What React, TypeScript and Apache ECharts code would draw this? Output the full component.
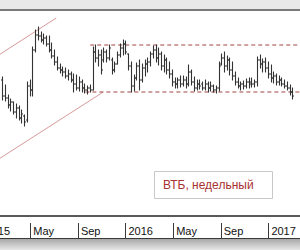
import React, { useEffect, useRef } from 'react';
import * as echarts from 'echarts';

// Weekly bars, first bar dated 2015-02-20, prices in kopecks
const firstWeekUTC = Date.UTC(2015, 1, 20);
const originUTC = Date.UTC(2015, 0, 1);

const opens = [
  7.40, 7.08, 7.04, 6.90, 6.96, 6.76, 6.84, 6.64, 6.68, 6.60,
  7.28, 7.20, 8.00, 8.30, 8.28, 8.20, 8.24, 8.12, 8.00, 7.88,
  7.76, 7.64, 7.60, 7.56, 7.48, 7.52, 7.40, 7.32, 7.24, 7.36,
  7.24, 7.20, 7.24, 7.20, 7.96, 7.84, 7.90, 7.80, 7.96, 7.84,
  7.80, 7.60, 7.72, 7.90, 8.04, 8.12, 7.92, 7.68, 7.28, 7.44,
  7.68, 7.40, 7.64, 7.72, 7.76, 7.92, 8.00, 7.84, 7.92, 7.68,
  7.80, 7.60, 7.52, 7.36, 7.32, 7.40, 7.32, 7.40, 7.32, 7.56,
  7.36, 7.24, 7.32, 7.32, 7.24, 7.32, 7.24, 7.28, 7.20, 7.24,
  7.72, 7.84, 7.68, 7.80, 7.60, 7.48, 7.36, 7.28, 7.32, 7.28,
  7.36, 7.36, 7.32, 7.36, 7.80, 7.72, 7.76, 7.64, 7.52, 7.44,
  7.48, 7.36, 7.40, 7.32, 7.28, 7.24, 7.16,
];
const highs = [
  7.46, 7.30, 7.10, 7.02, 6.96, 6.92, 6.88, 6.80, 6.70, 7.36,
  7.40, 8.06, 8.40, 8.46, 8.36, 8.32, 8.28, 8.28, 8.14, 8.00,
  7.86, 7.72, 7.66, 7.64, 7.60, 7.56, 7.52, 7.50, 7.46, 7.40,
  7.32, 7.28, 7.30, 8.06, 8.10, 8.00, 8.00, 8.04, 8.00, 8.10,
  7.84, 7.76, 7.96, 8.12, 8.20, 8.18, 7.92, 7.76, 7.50, 7.74,
  7.80, 7.72, 7.80, 7.84, 7.96, 8.08, 8.10, 8.04, 7.96, 7.90,
  7.84, 7.76, 7.60, 7.44, 7.44, 7.48, 7.48, 7.46, 7.70, 7.60,
  7.46, 7.40, 7.40, 7.36, 7.40, 7.36, 7.36, 7.30, 7.28, 7.76,
  7.92, 7.96, 7.88, 7.84, 7.76, 7.56, 7.44, 7.36, 7.38, 7.42,
  7.44, 7.44, 7.40, 7.86, 7.90, 7.82, 7.84, 7.76, 7.70, 7.56,
  7.52, 7.48, 7.44, 7.40, 7.36, 7.30, 7.24,
];
const lows = [
  7.00, 6.98, 6.84, 6.78, 6.72, 6.64, 6.60, 6.54, 6.48, 6.56,
  7.08, 7.08, 7.96, 8.20, 8.16, 8.12, 8.08, 7.96, 7.84, 7.70,
  7.60, 7.54, 7.48, 7.44, 7.40, 7.36, 7.16, 7.20, 7.18, 7.16,
  7.14, 7.12, 7.16, 7.20, 7.76, 7.68, 7.52, 7.76, 7.76, 7.80,
  7.52, 7.56, 7.72, 7.86, 7.90, 7.92, 7.60, 7.16, 7.18, 7.40,
  7.20, 7.36, 7.48, 7.56, 7.68, 7.84, 7.76, 7.70, 7.60, 7.56,
  7.52, 7.44, 7.28, 7.24, 7.24, 7.26, 7.28, 7.24, 7.28, 7.30,
  7.18, 7.20, 7.22, 7.20, 7.20, 7.16, 7.18, 7.16, 7.14, 7.18,
  7.70, 7.56, 7.60, 7.50, 7.40, 7.30, 7.24, 7.20, 7.22, 7.24,
  7.24, 7.26, 7.26, 7.28, 7.64, 7.56, 7.56, 7.44, 7.36, 7.34,
  7.30, 7.30, 7.28, 7.24, 7.20, 7.10, 7.02,
];
const closes = [
  7.08, 7.04, 6.90, 6.96, 6.76, 6.84, 6.64, 6.72, 6.56, 7.28,
  7.20, 8.00, 8.30, 8.28, 8.20, 8.24, 8.12, 8.00, 7.88, 7.76,
  7.64, 7.60, 7.56, 7.48, 7.52, 7.40, 7.32, 7.24, 7.36, 7.24,
  7.20, 7.24, 7.20, 7.96, 7.84, 7.90, 7.60, 7.96, 7.84, 8.04,
  7.60, 7.72, 7.90, 8.04, 8.12, 7.96, 7.68, 7.28, 7.44, 7.68,
  7.40, 7.64, 7.72, 7.76, 7.92, 8.00, 7.84, 7.92, 7.68, 7.80,
  7.60, 7.52, 7.36, 7.32, 7.40, 7.32, 7.40, 7.32, 7.56, 7.36,
  7.24, 7.32, 7.28, 7.24, 7.32, 7.24, 7.28, 7.20, 7.24, 7.68,
  7.84, 7.68, 7.80, 7.60, 7.48, 7.36, 7.28, 7.32, 7.28, 7.36,
  7.32, 7.32, 7.36, 7.80, 7.72, 7.76, 7.64, 7.52, 7.44, 7.48,
  7.36, 7.40, 7.32, 7.28, 7.24, 7.16, 7.08,
];

// Horizontal channel (price) and where it starts (months since Jan 2015)
const resistanceLevel = 8.10;
const supportLevel = 7.16;
const resistanceFrom = 9.04;
const supportFrom = 8.63;
const channelTo = 28;

// Rising channel endpoints: [months since Jan 2015, price]
const upperTrend = [[0.64, 7.79], [6.18, 8.64]];
const lowerTrend = [[0.64, 5.71], [10.13, 7.16]];

// Axis tick labels (every 4 months)
const monthLabels = ['', 'May', 'Sep'];
const firstYear = 2015;

const title = 'ВТБ, недельный';

const DAY = 86400000;
const MONTH_DAYS = 30.4375;

// The chart canvas starts left of the window so that the axis can begin at a whole tick
const SHIFT = 65;
const CW = 381;

export default function App() {
  const ref = useRef<HTMLDivElement>(null);
  useEffect(() => {
    if (!ref.current) return;
    const chart = echarts.init(ref.current, undefined, { renderer: 'svg' });

    const bars = opens.map((o, i) => {
      const t = firstWeekUTC + i * 7 * DAY;
      const m = (t - originUTC) / DAY / MONTH_DAYS;
      return [m, o, highs[i], lows[i], closes[i]];
    });

    const font = '"Liberation Sans", Arial, sans-serif';

    chart.setOption({
      animation: false,
      backgroundColor: '#ffffff',
      grid: { left: 0, right: 0, top: 11, height: 205, containLabel: false, outerBoundsMode: 'none' },
      xAxis: [
        {
          type: 'value', min: -4, max: 28, interval: 4,
          axisLine: { show: true, lineStyle: { color: '#5a5a5a', width: 2 } },
          axisTick: { show: false }, axisLabel: { show: false }, splitLine: { show: false },
        },
        {
          type: 'value', min: -4, max: 28, interval: 4, position: 'bottom', offset: 7,
          axisLine: { show: false },
          axisTick: { show: true, length: 15, lineStyle: { color: '#3a3a3a', width: 1 } },
          splitLine: { show: false },
          axisLabel: {
            show: true, margin: 2, align: 'left', padding: [0, 0, 0, 3],
            showMinLabel: false, showMaxLabel: false,
            fontSize: 11, color: '#111', fontFamily: font,
            formatter: (v: number) => {
              const k = (((v / 4) % 3) + 3) % 3;
              if (k === 0) return String(firstYear + Math.floor(v / 12));
              return monthLabels[k];
            },
          },
        },
      ],
      yAxis: { type: 'value', min: 4.68, max: 8.78, show: false, splitLine: { show: false } },
      graphic: [
        { type: 'rect', shape: { x: 0, y: 0, width: CW, height: 9 }, style: { fill: '#e8e8e8' }, silent: true },
        { type: 'rect', shape: { x: 0, y: 9, width: CW, height: 2 }, style: { fill: '#787878' }, silent: true },
        { type: 'rect', shape: { x: 0, y: 238, width: CW, height: 1 }, style: { fill: '#3a3a3a' }, silent: true },
        {
          type: 'rect', shape: { x: 0, y: 239, width: CW, height: 11 },
          style: {
            fill: new echarts.graphic.LinearGradient(0, 0, 0, 1, [
              { offset: 0, color: '#a8a8a8' }, { offset: 1, color: '#e6e6e6' },
            ]),
          },
          silent: true,
        },
        {
          type: 'rect', shape: { x: SHIFT + 154.5, y: 171.5, width: 118, height: 27 },
          style: { fill: '#ffffff', stroke: '#c8c8c8', lineWidth: 1 }, z: 10,
        },
        {
          type: 'text', x: SHIFT + 163, y: 185, z: 11,
          style: { text: title, fill: '#a83232', font: `12px ${font}`, verticalAlign: 'middle' },
        },
      ],
      series: [
        {
          type: 'line', data: upperTrend, symbol: 'none', silent: true,
          lineStyle: { color: '#d89a9a', width: 1 }, z: 1,
        },
        {
          type: 'line', data: lowerTrend, symbol: 'none', silent: true,
          lineStyle: { color: '#d89a9a', width: 1 }, z: 1,
        },
        {
          type: 'line', data: [[resistanceFrom, resistanceLevel], [channelTo, resistanceLevel]],
          symbol: 'none', silent: true,
          lineStyle: { color: '#a04444', width: 1, type: [4, 3] }, z: 1,
        },
        {
          type: 'line', data: [[supportFrom, supportLevel], [channelTo, supportLevel]],
          symbol: 'none', silent: true,
          lineStyle: { color: '#a04444', width: 1, type: [4, 3] }, z: 1,
        },
        {
          type: 'custom', data: bars, z: 5,
          encode: { x: 0, y: [1, 2, 3, 4] },
          renderItem: (params: any, api: any) => {
            const m = api.value(0);
            const pO = api.coord([m, api.value(1)]);
            const pH = api.coord([m, api.value(2)]);
            const pL = api.coord([m, api.value(3)]);
            const pC = api.coord([m, api.value(4)]);
            const x = Math.round(pH[0]) + 0.5;
            const st = { stroke: '#333333', lineWidth: 1.1 };
            return {
              type: 'group',
              children: [
                { type: 'line', shape: { x1: x, y1: pH[1] - 0.5, x2: x, y2: pL[1] + 0.5 }, style: st },
                { type: 'line', shape: { x1: x - 1.5, y1: pO[1], x2: x, y2: pO[1] }, style: st },
                { type: 'line', shape: { x1: x, y1: pC[1], x2: x + 1.5, y2: pC[1] }, style: st },
              ],
            };
          },
        },
      ],
    });
    return () => chart.dispose();
  }, []);
  return <div ref={ref} style={{ position: 'fixed', left: -SHIFT, top: 0, width: CW, height: 250 }} />;
}
